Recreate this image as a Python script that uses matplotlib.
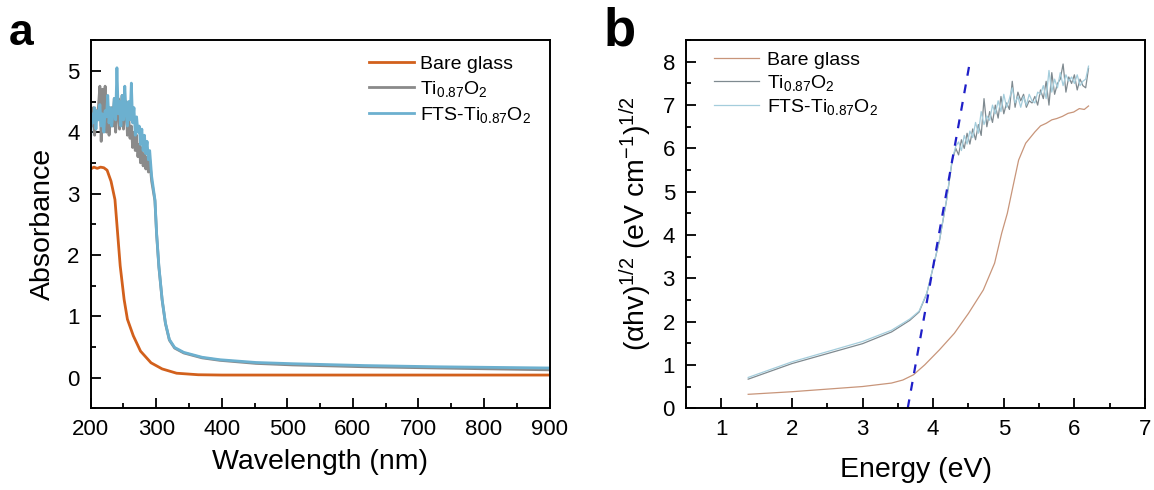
import matplotlib
matplotlib.use("Agg")
import matplotlib.pyplot as plt
from matplotlib.ticker import MultipleLocator

plt.rcParams["font.family"] = ["Liberation Sans", "DejaVu Sans"]
plt.rcParams["mathtext.default"] = "regular"

# --- UV-vis absorbance (panel a) ---
wl_noisy = [200, 202, 204, 206, 208, 210, 212, 214, 216, 218, 220, 222, 224, 226, 228,
            230, 232, 234, 236, 238, 240, 242, 244, 246, 248, 250, 252, 254, 256, 258,
            260, 262, 264, 266, 268, 270, 272, 274, 276, 278, 280, 282, 284, 286, 288, 290]
fts_noisy = [3.95, 4.30, 4.15, 4.40, 4.05, 4.35, 4.20, 4.45, 4.10, 4.30, 4.00, 4.35, 4.25, 4.60, 4.15,
             4.40, 4.10, 4.30, 4.55, 4.20, 5.05, 4.30, 4.50, 4.10, 4.60, 4.20, 4.75, 4.30, 4.10, 4.50,
             4.20, 4.80, 4.15, 4.40, 3.95, 4.25, 4.00, 4.10, 3.80, 4.05, 3.70, 3.95, 3.65, 3.85, 3.55, 3.70]
ti_noisy = [4.30, 4.10, 4.40, 3.95, 4.35, 4.20, 4.45, 4.75, 3.85, 4.70, 4.20, 4.75, 4.00, 4.35, 3.95,
            4.20, 4.40, 4.10, 4.55, 4.00, 4.30, 4.55, 4.05, 4.40, 4.60, 4.05, 4.35, 4.50, 3.95, 4.25,
            3.90, 4.10, 3.75, 4.00, 3.70, 3.95, 3.60, 3.80, 3.50, 3.75, 3.45, 3.65, 3.40, 3.60, 3.35, 3.55]

wl_edge = [293, 298, 300.5, 304, 309, 314, 320, 328, 342, 370, 397, 452, 508, 618, 729, 900]
fts_edge = [3.28, 2.90, 2.36, 1.82, 1.27, 0.89, 0.62, 0.49, 0.41, 0.33, 0.29, 0.245, 0.225, 0.195, 0.175, 0.155]
ti_edge = [3.20, 2.88, 2.34, 1.80, 1.26, 0.88, 0.61, 0.48, 0.40, 0.32, 0.28, 0.23, 0.205, 0.175, 0.155, 0.125]

wl_glass = [200, 205, 210, 215, 220, 225, 231, 237, 241, 245, 251, 256, 265, 276, 292, 309, 331, 364, 400, 600, 900]
abs_glass = [3.40, 3.43, 3.41, 3.43, 3.42, 3.38, 3.20, 2.90, 2.36, 1.82, 1.27, 0.95, 0.68, 0.43, 0.24, 0.14, 0.07, 0.045, 0.04, 0.04, 0.04]

# --- Tauc plot (panel b) ---
e_smooth = [1.38, 2.0, 3.0, 3.41, 3.67, 3.80, 3.91, 3.98, 4.09, 4.19, 4.27]
ti_smooth = [0.67, 1.03, 1.49, 1.76, 2.03, 2.22, 2.65, 3.12, 3.88, 4.81, 5.73]
fts_smooth = [0.71, 1.07, 1.54, 1.80, 2.06, 2.24, 2.66, 3.13, 3.89, 4.82, 5.75]

e_noisy = [4.32, 4.36, 4.40, 4.44, 4.48, 4.52, 4.56, 4.60, 4.64, 4.68, 4.72, 4.76, 4.80, 4.84, 4.88, 4.92,
           4.96, 5.00, 5.04, 5.08, 5.12, 5.16, 5.20, 5.24, 5.28, 5.32, 5.36, 5.40, 5.44, 5.48, 5.52, 5.56,
           5.60, 5.64, 5.68, 5.72, 5.76, 5.80, 5.84, 5.88, 5.92, 5.96, 6.00, 6.04, 6.08, 6.12, 6.16, 6.20]
ti_tauc = [6.00, 5.85, 6.20, 6.00, 6.35, 6.10, 6.45, 6.20, 6.55, 6.30, 7.15, 6.50, 6.85, 6.60, 7.00, 6.70,
           7.20, 6.80, 7.05, 6.90, 7.55, 6.95, 7.30, 7.10, 7.25, 6.95, 7.10, 7.05, 7.20, 7.00, 7.35, 7.15,
           7.55, 7.00, 7.75, 7.25, 7.50, 7.60, 7.95, 7.30, 7.65, 7.50, 7.70, 7.35, 7.60, 7.45, 7.40, 7.85]
fts_tauc = [6.05, 6.15, 5.95, 6.30, 6.10, 6.40, 6.25, 6.60, 6.35, 6.85, 6.55, 6.75, 6.65, 7.00, 6.80, 7.10,
            6.85, 7.25, 6.95, 7.15, 7.40, 7.05, 7.20, 6.95, 7.20, 7.00, 7.25, 7.10, 7.05, 7.30, 7.25, 7.45,
            7.15, 7.80, 7.30, 7.60, 7.40, 7.75, 7.45, 7.70, 7.55, 7.65, 7.50, 7.70, 7.45, 7.55, 7.60, 7.90]

e_glass = [1.38, 2.0, 3.0, 3.41, 3.57, 3.72, 3.88, 4.09, 4.30, 4.50, 4.71, 4.87, 4.97, 5.05, 5.13, 5.21,
           5.31, 5.44, 5.52, 5.60, 5.68, 5.75, 5.83, 5.91, 5.99, 6.07, 6.14, 6.20]
glass_tauc = [0.32, 0.38, 0.50, 0.58, 0.65, 0.77, 1.00, 1.35, 1.73, 2.19, 2.73, 3.35, 4.04, 4.50, 5.12, 5.73,
              6.12, 6.38, 6.52, 6.58, 6.66, 6.69, 6.74, 6.81, 6.84, 6.92, 6.90, 6.98]

# linear fit of the absorption edge, extrapolated to the energy axis
fit_e = [3.64, 4.52]
fit_y = [0.0, 8.0]

labels = ["Bare glass", "Ti$_{0.87}$O$_2$", "FTS-Ti$_{0.87}$O$_2$"]


def style_axes(ax):
    for s in ax.spines.values():
        s.set_linewidth(1.4)
    ax.tick_params(which="both", direction="in", width=1.3, labelsize=16, pad=8)
    ax.tick_params(which="major", length=7.5)
    ax.tick_params(which="minor", length=3.8)


fig = plt.figure(figsize=(11.54, 4.90), dpi=100)
ax1 = fig.add_axes([0.0786, 0.167, 0.3976, 0.751])
ax2 = fig.add_axes([0.5945, 0.167, 0.3977, 0.751])

# panel a
ax1.plot(wl_glass, abs_glass, color="#d2601c", lw=2, label=labels[0])
ax1.plot(wl_noisy + wl_edge, ti_noisy + ti_edge, color="#8a8a8a", lw=2, label=labels[1])
ax1.plot(wl_noisy + wl_edge, fts_noisy + fts_edge, color="#6cb0cf", lw=2, label=labels[2])
ax1.set_xlim(200, 900)
ax1.set_ylim(-0.5, 5.5)
ax1.xaxis.set_major_locator(MultipleLocator(100))
ax1.xaxis.set_minor_locator(MultipleLocator(50))
ax1.yaxis.set_major_locator(MultipleLocator(1))
ax1.yaxis.set_minor_locator(MultipleLocator(0.5))
style_axes(ax1)
ax1.set_xlabel("Wavelength (nm)", fontsize=20.5, labelpad=6)
ax1.set_ylabel("Absorbance", fontsize=20.5, labelpad=8)
ax1.legend(loc="upper left", frameon=False, fontsize=14, handlelength=2.3,
           handletextpad=0.3, labelspacing=0.3, borderaxespad=0, bbox_to_anchor=(0.59, 0.98))

# panel b
ax2.plot(e_glass, glass_tauc, color="#c8957a", lw=0.9, label=labels[0])
ax2.plot(e_smooth + e_noisy, ti_smooth + ti_tauc, color="#7f8a90", lw=0.9, label=labels[1])
ax2.plot(e_smooth + e_noisy, fts_smooth + fts_tauc, color="#a4cddc", lw=0.9, label=labels[2])
ax2.plot(fit_e, fit_y, color="#1f1fc8", lw=1.6, ls=(0, (4, 4)))
ax2.set_xlim(0.5, 7)
ax2.set_ylim(0, 8.5)
ax2.xaxis.set_major_locator(MultipleLocator(1))
ax2.xaxis.set_minor_locator(MultipleLocator(0.5))
ax2.yaxis.set_major_locator(MultipleLocator(1))
ax2.yaxis.set_minor_locator(MultipleLocator(0.5))
style_axes(ax2)
ax2.set_xlabel("Energy (eV)", fontsize=20.5, labelpad=12)
ax2.set_ylabel("(αhv)$^{1/2}$ (eV cm$^{-1}$)$^{1/2}$", fontsize=20.5, labelpad=6)
ax2.legend(loc="upper left", frameon=False, fontsize=14, handlelength=2.3,
           handletextpad=0.4, labelspacing=0.2, borderaxespad=0, bbox_to_anchor=(0.045, 0.99))

fig.text(0.008, 0.908, "a", fontsize=32, fontweight="bold", va="baseline")
fig.text(0.523, 0.908, "b", fontsize=38, fontweight="bold", va="baseline")

fig.savefig("out.png", dpi=100)
